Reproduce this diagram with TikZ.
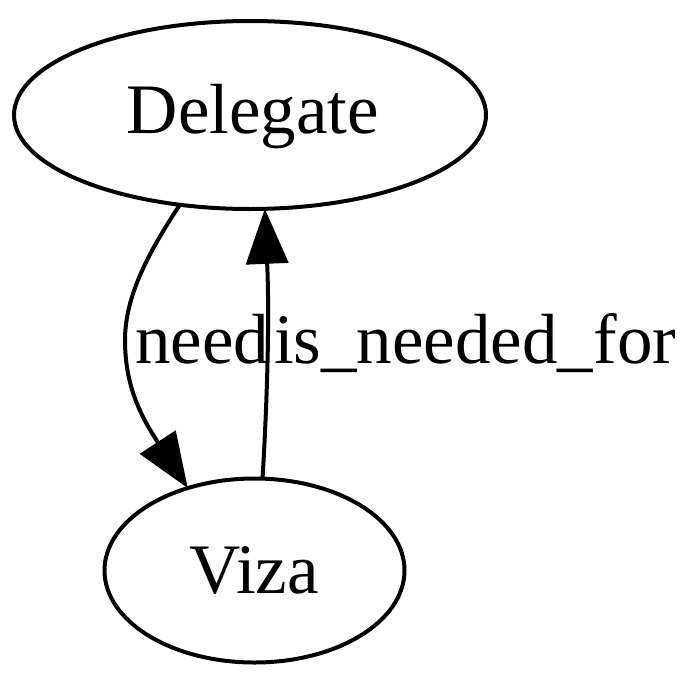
\documentclass[tikz,border=0pt]{standalone}
\usepackage{fontspec}
\setmainfont{Liberation Serif}
\usetikzlibrary{shapes.geometric,arrows.meta}
\begin{document}
\begin{tikzpicture}[x=1pt,y=-1pt,line width=4pt,
  nodeell/.style={draw,ellipse,inner sep=0pt,outer sep=0pt},
  lbl/.style={inner sep=0pt,outer sep=0pt,anchor=base,font=\fontsize{71}{85}\selectfont},
  edgelbl/.style={inner sep=0pt,outer sep=0pt,font=\fontsize{71}{85}\selectfont},
  tip/.style={-{Triangle[length=55pt,width=42pt]}}]
\useasboundingbox (0,0) rectangle (700,685);
\node[nodeell,minimum width=472pt,minimum height=188pt] (d) at (250,115) {};
\node[lbl] (dt) at (253,133) {Delegate};
\node[nodeell,minimum width=300pt,minimum height=184pt] (v) at (254.5,570.5) {};
\node[lbl] (vt) at (254,593) {Viza};
\draw[tip] (d.232.7) .. controls (150,250) and (125,295) .. (125,340)
  .. controls (125,385) and (140,415) .. (v.129);
\draw[tip] (v.85) .. controls (266,420) and (270,330) .. (d.279);
\node[edgelbl,anchor=base west] (l1) at (135,363) {need};
\node[edgelbl,anchor=base west] (l2) at (274,363) {is\_needed\_for};
\end{tikzpicture}
\end{document}
